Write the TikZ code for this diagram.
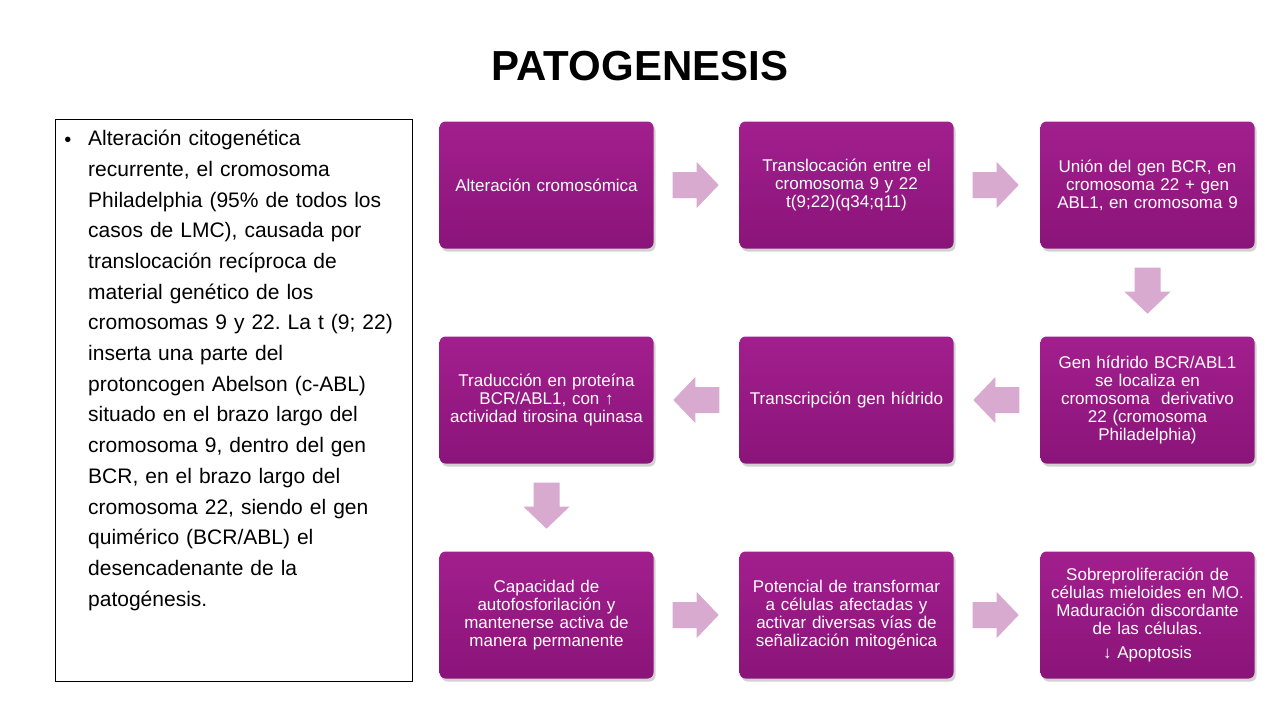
\documentclass[tikz,border=0pt]{standalone}
\usepackage{fontspec}
\setmainfont{Liberation Sans}
\usetikzlibrary{positioning,calc,shadows}
\definecolor{boxpurple}{HTML}{A21F8E}
\definecolor{boxdark}{HTML}{8A1479}
\definecolor{arrowpink}{HTML}{D8AACF}
\newcommand{\nohyph}{\hyphenpenalty=10000\frenchspacing\relax}
\tikzset{
  stage/.style={rectangle,rounded corners=6pt,minimum width=214pt,minimum height=127pt,
    text width=205pt,align=center,text=white,font=\fontsize{17}{18}\selectfont\nohyph,
    top color=boxpurple,bottom color=boxdark,drop shadow={opacity=0.35,shadow xshift=2pt,shadow yshift=-3pt}},
  flow/.pic={\fill[arrowpink] (0,-13) -- (24,-13) -- (24,-23) -- (46,0) -- (24,23) -- (24,13) -- (0,13) -- cycle;}
}
\begin{document}
\begin{tikzpicture}[x=1pt,y=-1pt]
	\useasboundingbox (0,0) rectangle (1280,720);
	\fill[white] (0,0) rectangle (1280,720);
	\node[font=\fontsize{42}{48}\selectfont\bfseries] (title) at (640,66) {PATOGENESIS};
	
	\draw[line width=0.8pt] (55,119) rectangle (412,681);
	\node[anchor=north west,text width=310pt,align=left,font=\fontsize{21}{30.7}\selectfont\nohyph,inner sep=0pt] (text) at (88,130)
		{Alteración citogenética\\ recurrente, el cromosoma\\ Philadelphia (95\% de todos los\\ casos de LMC), causada por\\ translocación recíproca de\\ material genético de los\\ cromosomas 9 y 22. La t (9; 22)\\ inserta una parte del\\ protoncogen Abelson (c-ABL)\\ situado en el brazo largo del\\ cromosoma 9, dentro del gen\\ BCR, en el brazo largo del\\ cromosoma 22, siendo el gen\\ quimérico (BCR/ABL) el\\ desencadenante de la\\ patogénesis.};
	\node[font=\fontsize{20}{24}\selectfont] (dot) at (68,142) {•};
	
	% fila 1
	\node[stage] (s1) at (546.5,185) {Alteración cromosómica};
	\node[stage] (s2) at (846.5,185) {Translocación entre el\\ cromosoma 9 y 22\\ t(9;22)(q34;q11)};
	\node[stage] (s3) at (1147.5,185) {Unión del gen BCR, en\\ cromosoma 22 + gen\\ ABL1, en cromosoma 9};
	% fila 2
	\node[stage] (s4) at (1147.5,400) {Gen hídrido BCR/ABL1\\ se localiza en\\ cromosoma\ \ derivativo\\ 22 (cromosoma\\ Philadelphia)};
	\node[stage] (s5) at (846.5,400) {Transcripción gen hídrido};
	\node[stage] (s6) at (546.5,400) {Traducción en proteína\\ BCR/ABL1, con ↑\\ actividad tirosina quinasa};
	% fila 3
	\node[stage] (s7) at (546.5,615) {Capacidad de\\ autofosforilación y\\ mantenerse activa de\\ manera permanente};
	\node[stage] (s8) at (846.5,615) {Potencial de transformar\\ a células afectadas y\\ activar diversas vías de\\ señalización mitogénica};
	\node[stage] (s9) at (1147.5,615) {Sobreproliferación de\\ células mieloides en MO.\\ Maduración discordante\\ de las células.\\[6pt] ↓ Apoptosis};
	
	% flechas
	\pic at ($(s1.east)+(19,0)$) {flow};
	\pic at ($(s2.east)+(19,0)$) {flow};
	\pic[rotate=-90] at ($(s3.south)+(0,19)$) {flow};
	\pic[rotate=180] at ($(s4.west)+(-21,0)$) {flow};
	\pic[rotate=180] at ($(s5.west)+(-20,0)$) {flow};
	\pic[rotate=-90] at ($(s6.south)+(0,19)$) {flow};
	\pic at ($(s7.east)+(19,0)$) {flow};
	\pic at ($(s8.east)+(19,0)$) {flow};
\end{tikzpicture}
\end{document}
